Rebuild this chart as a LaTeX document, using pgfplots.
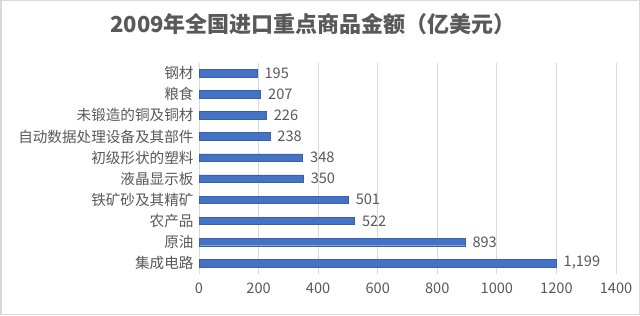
\documentclass[border=0pt]{standalone}
\usepackage{pgfplots}
\pgfplotsset{compat=1.18}
\usepackage{fontspec}
\setmainfont{Noto Sans CJK SC}
\definecolor{barblue}{HTML}{4472C4}
\definecolor{txtgray}{HTML}{595959}
\definecolor{gridgray}{HTML}{D9D9D9}
\begin{document}
\begin{tikzpicture}[x=1bp,y=1bp]
\draw[gridgray,line width=1.5bp,fill=white] (0.75,0.75) rectangle (639.25,314.25);
\node[txtgray,font=\fontsize{22bp}{24bp}\selectfont\bfseries] at (313,291) {2009年全国进口重点商品金额（亿美元）};
\begin{axis}[
  at={(199bp,41.4bp)}, anchor=south west,
  scale only axis, width=417bp, height=211bp,
  xbar, bar width=7.5bp,
  xmin=0, xmax=1400, xtick={0,200,...,1400},
  ymin=-0.5, ymax=9.5,
  ytick={0,...,9},
  yticklabels={集成电路,原油,农产品,铁矿砂及其精矿,液晶显示板,初级形状的塑料,自动数据处理设备及其部件,未锻造的铜及铜材,粮食,钢材},
  xmajorgrids, grid style={gridgray,line width=0.9bp},
  axis x line*=none, axis y line*=left,
  x axis line style={draw=none},
  y axis line style={gridgray,line width=1bp},
  axis line style={-},
  major tick length=0pt,
  tick label style={txtgray,font=\fontsize{14.6bp}{16bp}\selectfont},
  /pgf/number format/assume math mode=true,
  /pgf/number format/1000 sep={},
  xticklabel style={yshift=-6bp},
  yticklabel style={xshift=-2bp},
  nodes near coords,
  nodes near coords style={txtgray,font=\fontsize{14.6bp}{16bp}\selectfont,xshift=4bp,/pgf/number format/1000 sep={,}},
  point meta=x,
  clip=false,
]
\addplot[fill=barblue,draw=barblue!85!black,line width=0.4bp] coordinates {
(1199,0) (893,1) (522,2) (501,3) (350,4) (348,5) (238,6) (226,7) (207,8) (195,9)
};
\end{axis}
\end{tikzpicture}
\end{document}
